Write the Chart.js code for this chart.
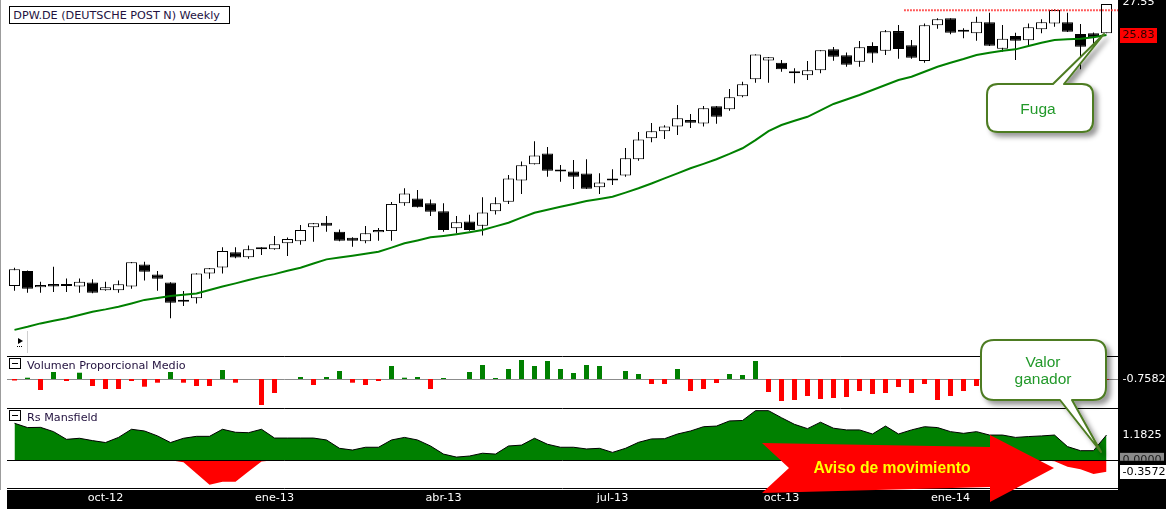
<!DOCTYPE html>
<html>
<head>
<meta charset="utf-8">
<script src="https://cdn.jsdelivr.net/npm/chart.js@4.4.1/dist/chart.umd.min.js"></script>
<style>
html,body{margin:0;padding:0;background:#fff;overflow:hidden;}
#wrap{position:relative;width:1166px;height:509px;overflow:hidden;}
#c{position:absolute;left:0;top:0;}
.t{position:absolute;font-family:"DejaVu Sans",sans-serif;font-size:11.2px;line-height:13px;color:#23123f;white-space:nowrap;}
#title{left:9px;top:6px;width:221px;height:18px;box-sizing:border-box;padding:1.6px 0 0 3.3px;border:1px solid #000;background:#fff;}
.ico{position:absolute;width:12px;height:11px;box-sizing:border-box;border:1px solid #000;background:#fff;}
.ico i{position:absolute;left:2px;width:6px;top:4px;height:1px;background:#000;}
#ov{position:absolute;left:0;top:0;}
</style>
</head>
<body>
<div id="wrap">
<canvas id="c" width="1166" height="509"></canvas>
<div class="t" id="title">DPW.DE (DEUTSCHE POST N) Weekly</div>
<div class="ico" style="left:9px;top:358px"><i></i></div>
<div class="t" style="left:27px;top:358.6px">Volumen Proporcional Medio</div>
<div class="ico" style="left:9px;top:410px"><i></i></div>
<div class="t" style="left:27px;top:410.9px">Rs Mansfield</div>
<svg id="ov" width="1166" height="509" xmlns="http://www.w3.org/2000/svg">
  <defs>
    <filter id="sh" x="-20%" y="-20%" width="150%" height="160%">
      <feDropShadow dx="4" dy="4" stdDeviation="2.5" flood-color="#000" flood-opacity="0.4"/>
    </filter>
  </defs>
  <line x1="27.5" y1="331" x2="27.5" y2="353" stroke="#cfcfcf"/>
  <polygon points="18,338 23,341 18,344" fill="#000"/>
  <line x1="17" y1="346.5" x2="23" y2="346.5" stroke="#000" stroke-dasharray="1,1"/>
  <polygon points="762,443 990,447 990,435 1054,468 990,502 990,487 762,493 789,468" fill="#ff0000"/>
  <text x="892" y="467" text-anchor="middle" dominant-baseline="central" font-family="Liberation Sans, Arial, sans-serif" font-weight="bold" font-size="15.7" fill="#ffff00">Aviso de movimiento</text>
  <path d="M998,84 L1053,84 L1104,34 L1064,84 L1082,84 Q1093,84 1093,95 L1093,121 Q1093,132 1082,132 L998,132 Q987,132 987,121 L987,95 Q987,84 998,84 Z" fill="#fff" stroke="#4d7b22" stroke-width="2" stroke-linejoin="round" filter="url(#sh)"/>
  <text x="1038" y="108.5" text-anchor="middle" dominant-baseline="central" font-family="Liberation Sans, Arial, sans-serif" font-size="15.5" fill="#22992a">Fuga</text>
  <path d="M994,340 L1093,340 Q1106,340 1106,353 L1106,387 Q1106,400 1093,400 L1072,400 L1101,452 L1060,400 L994,400 Q981,400 981,387 L981,353 Q981,340 994,340 Z" fill="#fff" stroke="#4d7b22" stroke-width="2" stroke-linejoin="round" filter="url(#sh)"/>
  <text x="1043" y="361" text-anchor="middle" dominant-baseline="central" font-family="Liberation Sans, Arial, sans-serif" font-size="15.5" fill="#22992a">Valor</text>
  <text x="1043" y="378.5" text-anchor="middle" dominant-baseline="central" font-family="Liberation Sans, Arial, sans-serif" font-size="15.5" fill="#22992a">ganador</text>
</svg>
</div>
<script>
// ---- categories (weekly bars) ----
const weeks = [
"2012-08-13","2012-08-20","2012-08-27","2012-09-03","2012-09-10","2012-09-17","2012-09-24","2012-10-01","2012-10-08","2012-10-15",
"2012-10-22","2012-10-29","2012-11-05","2012-11-12","2012-11-19","2012-11-26","2012-12-03","2012-12-10","2012-12-17","2012-12-24",
"2012-12-31","2013-01-07","2013-01-14","2013-01-21","2013-01-28","2013-02-04","2013-02-11","2013-02-18","2013-02-25","2013-03-04",
"2013-03-11","2013-03-18","2013-03-25","2013-04-01","2013-04-08","2013-04-15","2013-04-22","2013-04-29","2013-05-06","2013-05-13",
"2013-05-20","2013-05-27","2013-06-03","2013-06-10","2013-06-17","2013-06-24","2013-07-01","2013-07-08","2013-07-15","2013-07-22",
"2013-07-29","2013-08-05","2013-08-12","2013-08-19","2013-08-26","2013-09-02","2013-09-09","2013-09-16","2013-09-23","2013-09-30",
"2013-10-07","2013-10-14","2013-10-21","2013-10-28","2013-11-04","2013-11-11","2013-11-18","2013-11-25","2013-12-02","2013-12-09",
"2013-12-16","2013-12-23","2013-12-30","2014-01-06","2014-01-13","2014-01-20","2014-01-27","2014-02-03","2014-02-10","2014-02-17",
"2014-02-24","2014-03-03","2014-03-10","2014-03-17","2014-03-24"];

// ---- tick labels of the date axis ----
const tickWeeks  = ["2012-10-01","2012-12-31","2013-04-01","2013-07-01","2013-09-30","2013-12-30"];
const tickLabels = ["oct-12","ene-13","abr-13","jul-13","oct-13","ene-14"];

// ---- price series (EUR) ----
const open = [15.33,15.81,15.29,15.39,15.33,15.31,15.44,15.19,15.19,15.31,
16.03,15.70,15.44,14.83,14.94,15.73,15.93,16.44,16.27,16.54,
16.54,16.75,16.82,17.32,17.48,17.16,16.94,16.82,17.14,17.18,
18.20,18.39,18.20,17.90,17.28,17.53,17.37,17.90,18.26,19.09,
19.74,20.19,19.45,19.45,19.37,18.82,19.09,19.29,19.95,20.84,
21.14,21.36,21.64,21.49,22.27,22.13,22.74,23.56,24.50,24.38,
23.85,23.75,24.00,25.07,24.76,24.43,25.25,25.00,26.04,25.28,
24.47,26.36,26.74,26.00,25.92,26.52,25.10,25.78,25.55,26.14,
26.46,26.52,25.88,25.93,25.92];
const high = [15.92,15.83,15.46,15.95,15.57,15.57,15.54,15.46,15.50,16.11,
16.12,15.81,15.45,15.17,15.74,15.91,16.61,16.61,16.67,16.61,
17.01,16.95,17.40,17.47,17.73,17.24,16.96,17.36,17.29,18.25,
18.78,18.71,18.35,18.20,17.73,17.77,18.43,18.43,19.31,19.86,
20.71,20.46,19.71,19.92,19.95,19.38,19.54,20.42,21.11,21.51,
21.41,22.33,21.92,22.28,22.28,23.09,23.44,24.82,24.67,24.52,
24.10,24.47,25.03,25.19,24.91,25.51,25.45,26.10,26.37,25.56,
26.46,26.74,26.75,26.19,26.83,27.05,26.37,25.95,26.46,26.69,
27.25,27.05,26.43,25.97,27.55];
const low = [15.18,15.11,15.11,15.14,15.14,15.11,15.10,15.18,15.11,15.24,
15.50,15.18,14.33,14.70,14.78,15.56,15.73,16.24,16.22,16.35,
16.53,16.31,16.70,16.80,17.16,16.82,16.63,16.75,16.84,16.84,
18.11,18.04,17.73,17.16,17.10,17.19,17.02,17.78,18.18,18.56,
19.73,19.24,19.04,18.75,18.75,18.56,18.91,19.24,19.89,20.67,
20.81,20.98,21.29,21.35,21.48,22.07,22.69,23.39,23.39,23.93,
23.36,23.52,23.85,24.48,24.18,24.18,24.38,24.78,24.59,24.59,
24.38,26.17,25.87,25.65,25.52,25.25,24.95,24.52,25.30,25.92,
26.28,25.99,24.05,25.38,25.92];
const close = [15.87,15.24,15.36,15.31,15.33,15.46,15.11,15.29,15.38,16.10,
15.79,15.56,14.80,14.83,15.73,15.90,16.48,16.26,16.54,16.54,
16.72,16.90,17.22,17.46,17.37,16.84,16.84,17.10,17.22,18.18,
18.58,18.05,17.89,17.22,17.50,17.22,17.86,18.20,19.17,19.70,
20.11,19.48,19.45,19.24,18.76,19.01,19.09,19.99,20.79,21.14,
21.36,21.72,21.52,22.18,21.79,22.69,23.31,24.81,24.66,24.05,
23.85,24.01,25.02,24.69,24.28,25.18,24.86,26.03,25.09,24.64,
26.36,26.69,25.95,26.00,26.55,25.26,25.63,25.52,26.25,26.52,
27.21,26.00,25.21,25.71,27.55];
// 30-week moving average
const ma30 = [13.99,14.08,14.18,14.26,14.33,14.43,14.53,14.60,14.68,14.78,
14.89,14.95,15.01,15.05,15.09,15.20,15.31,15.41,15.52,15.62,
15.71,15.82,15.92,16.06,16.20,16.26,16.32,16.39,16.46,16.60,
16.75,16.85,16.96,17.01,17.07,17.14,17.22,17.35,17.48,17.67,
17.85,17.96,18.07,18.18,18.29,18.37,18.45,18.61,18.78,18.97,
19.17,19.37,19.58,19.76,19.95,20.17,20.41,20.76,21.15,21.42,
21.61,21.79,22.08,22.38,22.59,22.80,23.04,23.28,23.52,23.68,
23.93,24.18,24.38,24.57,24.78,24.89,25.00,25.07,25.25,25.42,
25.56,25.60,25.63,25.71,25.83];
// breakout (resistance) level and the bar where it starts
const resistance = 27.2;
const resistanceFrom = 68.44;

// ---- Volumen Proporcional Medio ----
const volume = [-1.5,1.3,-11,7,-2,6.3,-7,-10,-10,-2,
-7.7,-3.7,7,-3.7,-7,-7,9,-3.7,0,-26,
-14,0,2,-6,2,8,-3.7,-6,-2,13,
1.3,2,-10,1,0,7,14,1,10,19,
13,18,10,6,14,13,0,8,5,-5,
-5,10,-12,-10,-4,5,4,18,-13,-22,
-21,-17,-20,-19,-18,-12,-15,-14,-8,-14,
-5,-21,-17,-12,-7,-10,-6,-13,-9,-5,
-11,-8,-16,-10,-0.7582];

// ---- Rs Mansfield ----
const rsMansfield = [1.73,1.53,1.54,1.34,0.98,1.03,0.92,0.83,1.07,1.45,
1.37,1.14,0.83,1.03,1.12,1.12,1.45,1.31,1.29,1.45,
1.04,1.04,1.04,1.04,0.95,0.56,0.48,0.61,0.61,0.95,
1.07,0.95,0.67,0.29,0.15,0.20,0.33,0.29,0.67,0.71,
1.03,0.75,0.61,0.61,0.53,0.56,0.37,0.56,0.84,1.00,
1.01,1.23,1.37,1.57,1.60,1.84,1.86,2.32,2.32,1.99,
1.68,1.48,1.78,1.50,1.42,1.42,1.23,1.60,1.23,1.42,
1.57,1.53,1.34,1.26,1.34,1.18,1.18,1.07,1.11,1.14,
1.18,0.64,0.45,0.45,1.1825];
const rsWarning = [0,0,0,0,0,0,0,0,0,0,
0,0,0,-0.06,-0.41,-0.77,-0.67,-0.67,-0.35,-0.04,
0,0,0,0,0,0,0,0,0,0,
0,0,0,0,0,0,0,0,0,0,
0,0,0,0,0,0,0,0,0,0,
0,0,0,0,0,0,0,0,0,0,
0,0,0,0,0,0,0,0,0,0,
0,0,0,0,0,0,0,0,0,0,
-0.03,-0.20,-0.28,-0.43,-0.3572];

// ---------------------------------------------------------------
const N = close.length;
const tickIdx = tickWeeks.map(d => weeks.indexOf(d));
const W = 1166, H = 509, RIGHT = 1118;
const X_MIN = -7.5/13, X_MAX = -7.5/13 + 1111/13;
const FONT = '11.2px "DejaVu Sans"';
const idx = weeks.map((w, i) => i);

const panelPlugin = {
  id: 'panels',
  beforeDraw(chart) {
    const ctx = chart.ctx;
    ctx.save();
    ctx.fillStyle = '#fff'; ctx.fillRect(0, 0, W, H);
    ctx.fillStyle = '#000';
    ctx.fillRect(RIGHT, 0, W - RIGHT, H);
    ctx.fillRect(7, 490, W - 7, H - 490);
    ctx.fillStyle = '#9c9c9c'; ctx.fillRect(0, 0, 1, 490);
    ctx.restore();
  },
  beforeDatasetsDraw(chart) {
    const {ctx, chartArea: a, scales} = chart;
    ctx.save();
    ctx.lineWidth = 1;
    ctx.strokeStyle = '#000';
    [356, 408, 488].forEach(y => { ctx.beginPath(); ctx.moveTo(a.left, y + 0.5); ctx.lineTo(a.right, y + 0.5); ctx.stroke(); });
    const yv = Math.round(scales.yV.getPixelForValue(0)) + 0.5;
    ctx.strokeStyle = '#8c8c8c';
    ctx.beginPath(); ctx.moveTo(a.left, yv); ctx.lineTo(a.right, yv); ctx.stroke();
    ctx.restore();
  },
  afterDatasetsDraw(chart) {
    const {ctx, chartArea: a, scales} = chart;
    ctx.save();
    ctx.lineWidth = 1; ctx.strokeStyle = '#000';
    const yr = Math.round(scales.yR.getPixelForValue(0)) + 0.5;
    ctx.beginPath(); ctx.moveTo(a.left, yr); ctx.lineTo(a.right, yr); ctx.stroke();
    ctx.restore();
  },
  afterDraw(chart) {
    const {ctx, scales} = chart;
    const LX = 1122.5;
    ctx.save();
    ctx.font = FONT; ctx.textBaseline = 'middle'; ctx.textAlign = 'left';
    // last close
    let y = scales.yP.getPixelForValue(close[N - 1]);
    ctx.fillStyle = '#fff'; ctx.fillText(close[N - 1].toFixed(2), LX, y - 1.5);
    // last moving average
    y = scales.yP.getPixelForValue(ma30[N - 1]);
    ctx.fillStyle = '#ff0000'; ctx.fillRect(1120, Math.round(y - 7.5), 37, 15);
    ctx.fillStyle = '#2a0000'; ctx.fillText(ma30[N - 1].toFixed(2), LX, y);
    // volume
    y = scales.yV.getPixelForValue(volume[N - 1]);
    ctx.fillStyle = '#fff'; ctx.fillText(volume[N - 1].toFixed(4), LX, y - 0.5);
    // rs mansfield
    y = scales.yR.getPixelForValue(rsMansfield[N - 1]);
    ctx.fillStyle = '#fff'; ctx.fillText(rsMansfield[N - 1].toFixed(4), LX, y);
    // zero reference
    const y0 = scales.yR.getPixelForValue(0);
    ctx.save();
    ctx.beginPath(); ctx.rect(RIGHT, y0 - 8, W - RIGHT, 8.4); ctx.clip();
    ctx.fillStyle = '#8a8a8a'; ctx.fillRect(1120, y0 - 7.5, 44, 15);
    ctx.fillStyle = '#1c1c1c'; ctx.fillText((0).toFixed(4), LX, y0);
    ctx.restore();
    // warning series
    y = scales.yR2.getPixelForValue(rsWarning[N - 1]);
    ctx.fillStyle = '#fff'; ctx.fillRect(1120, Math.round(y - 7), 46, 14);
    ctx.fillStyle = '#000'; ctx.fillText(rsWarning[N - 1].toFixed(4), LX, y);
    ctx.restore();
  }
};

const pts = arr => arr.map((v, i) => ({x: idx[i], y: v}));

new Chart(document.getElementById('c'), {
  type: 'bar',
  data: {
    datasets: [
      { type: 'line', label: 'resistance', yAxisID: 'yP', order: 1,
        data: [{x: resistanceFrom, y: resistance}, {x: X_MAX, y: resistance}],
        borderColor: '#ff2a2a', borderWidth: 2, borderDash: [1.5, 1.5], pointRadius: 0, fill: false },
      { type: 'line', label: 'MA30', yAxisID: 'yP', order: 2,
        data: pts(ma30), borderColor: '#008000', borderWidth: 2, pointRadius: 0, tension: 0, fill: false },
      { type: 'bar', label: 'body', yAxisID: 'yP', order: 3, grouped: false,
        data: idx.map(i => ({x: i, y: [open[i], close[i]]})),
        backgroundColor: idx.map(i => close[i] >= open[i] ? '#ffffff' : '#000000'),
        borderColor: '#000', borderWidth: 1, borderSkipped: false, barThickness: 11, minBarLength: 2, inflateAmount: 0 },
      { type: 'bar', label: 'wick', yAxisID: 'yP', order: 4, grouped: false,
        data: idx.map(i => ({x: i, y: [low[i], high[i]]})),
        backgroundColor: '#000', borderWidth: 0, barThickness: 1, inflateAmount: 0 },
      { type: 'bar', label: 'volume', yAxisID: 'yV', order: 5, grouped: false,
        data: pts(volume),
        backgroundColor: volume.map(v => v >= 0 ? '#008000' : '#ff0000'),
        borderWidth: 0, barThickness: 5, inflateAmount: 0 },
      { type: 'line', label: 'Rs Mansfield', yAxisID: 'yR', order: 6,
        data: pts(rsMansfield), borderColor: '#000', borderWidth: 1, backgroundColor: '#008000',
        fill: 'origin', pointRadius: 0, tension: 0 },
      { type: 'line', label: 'warning', yAxisID: 'yR2', order: 7,
        data: pts(rsWarning), borderColor: 'rgba(0,0,0,0)', borderWidth: 0, backgroundColor: '#ff0000',
        fill: 'origin', pointRadius: 0, tension: 0 }
    ]
  },
  options: {
    responsive: false, animation: false, devicePixelRatio: 1,
    layout: { padding: { left: 7, right: W - RIGHT, top: 0, bottom: 0 } },
    plugins: { legend: { display: false }, tooltip: { enabled: false }, title: { display: false } },
    events: [],
    scales: {
      x: {
        type: 'linear', min: X_MIN, max: X_MAX, offset: false, bounds: 'data',
        grid: { display: false, drawTicks: false, tickLength: 0 }, border: { display: false },
        afterBuildTicks: s => { s.ticks = tickIdx.map(v => ({value: v})); },
        afterFit: s => { s.height = 21; s.paddingLeft = 0; s.paddingRight = 0; },
        ticks: { autoSkip: false, maxRotation: 0, minRotation: 0, color: '#ffffff', padding: 3,
          font: { family: 'DejaVu Sans', size: 11.2 },
          callback: v => tickLabels[tickIdx.indexOf(v)] }
      },
      yP: { type: 'logarithmic', display: false, min: 10.07, max: 27.78, bounds: 'data', beginAtZero: false },
      yV: { type: 'linear', display: false, min: -109, max: 379, bounds: 'data', beginAtZero: false },
      yR: { type: 'linear', display: false, min: -1.294, max: 21.51, bounds: 'data', beginAtZero: false },
      yR2: { type: 'linear', display: false, min: -0.868, max: 14.43, bounds: 'data', beginAtZero: false }
    }
  },
  plugins: [panelPlugin]
});
</script>
</body>
</html>
